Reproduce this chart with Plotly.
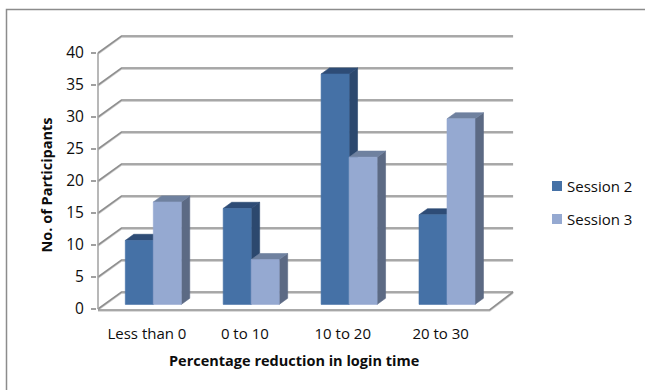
import plotly.graph_objects as go

# ---- data ----
categories = ["Less than 0", "0 to 10", "10 to 20", "20 to 30"]
session2 = [10, 15, 36, 14]
session3 = [16, 7, 23, 29]
series_names = ["Session 2", "Session 3"]
y_ticks = [0, 5, 10, 15, 20, 25, 30, 35, 40]

# ---- geometry of the pseudo-3D frame ----
W, H = 645, 390
L, R, T, B = 97, 129, 32, 78
plot_w, plot_h = W - L - R, H - T - B
PX_PER_CAT = 97.9          # horizontal pixels per category slot
PX_PER_UNIT = 6.4          # vertical pixels per participant
AXIS_PX = 98.0             # pixel column of the front value axis
ZERO_PY = 309.0            # pixel row of value 0 on the front plane

x0_data = -0.5 - (AXIS_PX - L) / PX_PER_CAT
x_range = [x0_data, x0_data + plot_w / PX_PER_CAT]
y_range = [(ZERO_PY - (T + plot_h)) / PX_PER_UNIT, (ZERO_PY - T) / PX_PER_UNIT]

# depth of the walls expressed in data units
WALL_DX = 23.5 / PX_PER_CAT
WALL_DV = 17.0 / PX_PER_UNIT
BAR_T0, BAR_T1 = 0.27, 0.63     # bar depth span as a fraction of the wall depth
BAR_W = 28.0 / PX_PER_CAT

n = len(categories)
left = -0.5
right = n - 0.5

GRID = "#8f8f8f"
GRID_LIGHT = "#d0d0d0"
TEXT = "#0d0d0d"
FONT = "Open Sans"

front_cols = ["#4571a6", "#95a9d1"]
top_cols = ["#2e4c76", "#6f819f"]
side_cols = ["#2c486e", "#5c6a84"]

fig = go.Figure()

# back wall gridlines joined to the front axis by the left-wall diagonals
gx, gy = [], []
for v in y_ticks:
    gx += [left, left + WALL_DX, right + WALL_DX, None]
    gy += [v, v + WALL_DV, v + WALL_DV, None]
# floor: front edge and right edge
gx += [left, right, right + WALL_DX, None]
gy += [-0.15, -0.15, WALL_DV, None]

# soft highlight just under each wall line, then the line itself
fig.add_trace(go.Scatter(x=gx, y=[None if v is None else v - 0.2 for v in gy], mode="lines",
                         line=dict(color=GRID_LIGHT, width=1.2),
                         hoverinfo="skip", showlegend=False))
fig.add_trace(go.Scatter(x=gx, y=gy, mode="lines", line=dict(color=GRID, width=1.6),
                         hoverinfo="skip", showlegend=False))

# front value axis
fig.add_trace(go.Scatter(x=[left, left], y=[y_ticks[0], y_ticks[-1]], mode="lines",
                         line=dict(color="#a0a0a0", width=1.5), hoverinfo="skip", showlegend=False))


def face_traces(values, s):
    dx0, dv0 = WALL_DX * BAR_T0, WALL_DV * BAR_T0
    ddx, ddv = WALL_DX * (BAR_T1 - BAR_T0), WALL_DV * (BAR_T1 - BAR_T0)
    fx, fy, tx, ty, sx, sy = [], [], [], [], [], []
    for i, val in enumerate(values):
        xa = i - BAR_W + s * BAR_W + dx0
        xb = xa + BAR_W
        vb = dv0
        vt = val + dv0
        fx += [xa, xb, xb, xa, xa, None]
        fy += [vb, vb, vt, vt, vb, None]
        tx += [xa, xb, xb + ddx, xa + ddx, xa, None]
        ty += [vt, vt, vt + ddv, vt + ddv, vt, None]
        sx += [xb, xb + ddx, xb + ddx, xb, xb, None]
        sy += [vb, vb + ddv, vt + ddv, vt, vb, None]
    out = []
    for xs, ys, col in ((sx, sy, side_cols[s]), (tx, ty, top_cols[s]), (fx, fy, front_cols[s])):
        out.append(go.Scatter(x=xs, y=ys, mode="lines", fill="toself", fillcolor=col,
                              line=dict(color=col, width=0.6), hoverinfo="skip",
                              showlegend=False, name=series_names[s]))
    return out


for s, vals in enumerate([session2, session3]):
    for tr in face_traces(vals, s):
        fig.add_trace(tr)


def px_x(px):
    return (px - L) / plot_w


def px_y(py):
    return (T + plot_h - py) / plot_h


shapes = [
    # chart border
    dict(type="rect", xref="paper", yref="paper",
         x0=px_x(6.5), x1=px_x(W + 10), y0=px_y(H + 10), y1=px_y(9.5),
         line=dict(color="#8c8c8c", width=1.5), fillcolor="rgba(0,0,0,0)", layer="below"),
]
annotations = [
    dict(text="<b>Percentage reduction in login time</b>", xref="paper", yref="paper",
         x=px_x(294), y=px_y(360), xanchor="center", yanchor="middle", showarrow=False,
         font=dict(family=FONT, size=14.5, color=TEXT)),
    dict(text="<b>No. of Participants</b>", xref="paper", yref="paper",
         x=px_x(46), y=px_y(185.5), xanchor="center", yanchor="middle", showarrow=False,
         textangle=-90, font=dict(family=FONT, size=14.5, color=TEXT)),
]
# legend
for s, name in enumerate(series_names):
    cy = 186 + 33 * s
    shapes.append(dict(type="rect", xref="paper", yref="paper",
                       x0=px_x(552), x1=px_x(562), y0=px_y(cy + 5), y1=px_y(cy - 5),
                       line=dict(width=0), fillcolor=front_cols[s]))
    annotations.append(dict(text=name, xref="paper", yref="paper", x=px_x(565), y=px_y(cy),
                            xanchor="left", yanchor="middle", showarrow=False,
                            font=dict(family=FONT, size=15, color=TEXT)))

fig.update_layout(
    width=W, height=H, autosize=False,
    margin=dict(l=L, r=R, t=T, b=B, autoexpand=False),
    paper_bgcolor="white", plot_bgcolor="rgba(0,0,0,0)",
    showlegend=False,
    shapes=shapes, annotations=annotations,
    xaxis=dict(range=x_range, tickvals=list(range(n)), ticktext=categories,
               showgrid=False, zeroline=False, showline=False, ticks="",
               ticklabelstandoff=11, automargin=False,
               tickfont=dict(family=FONT, size=15, color=TEXT), fixedrange=True),
    yaxis=dict(range=y_range, tickvals=y_ticks, showgrid=False, zeroline=False,
               showline=False, ticks="outside", ticklen=5, tickwidth=1.5, tickcolor="#a0a0a0",
               ticklabelstandoff=4, automargin=False,
               tickfont=dict(family=FONT, size=15.5, color=TEXT), fixedrange=True),
)

fig.write_html("out.html")
